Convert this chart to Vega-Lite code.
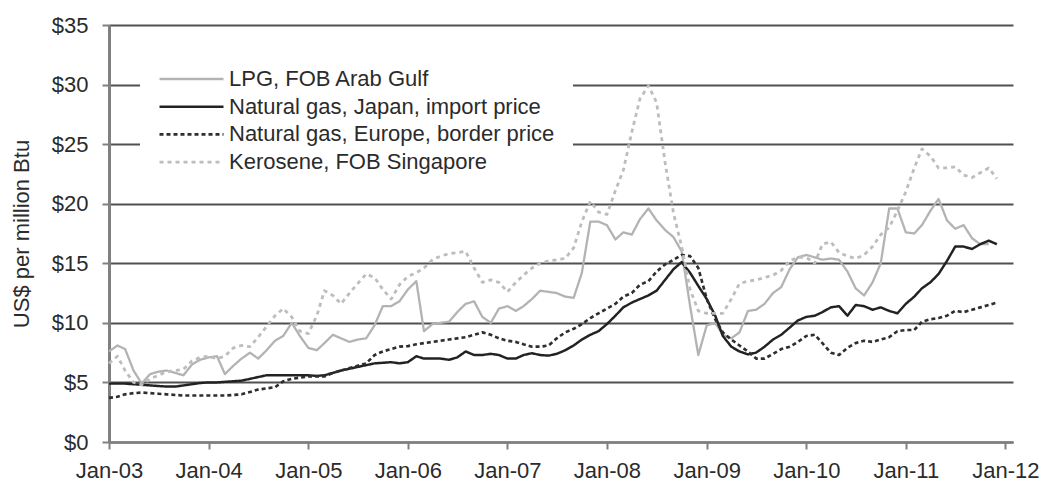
{
  "$schema": "https://vega.github.io/schema/vega-lite/v6.json",
  "width": 904,
  "height": 417,
  "autosize": {"type": "none"},
  "padding": {"left": 109, "top": 25, "right": 29, "bottom": 43},
  "background": "white",
  "config": {"view": {"stroke": null}, "font": "Liberation Sans"},
  "data": {"values": [
    {"date":"2003-01-01","lpg":7.6,"japan":4.9,"europe":3.7,"kerosene":6.6},
    {"date":"2003-02-01","lpg":8.1,"japan":4.9,"europe":3.8,"kerosene":7.2},
    {"date":"2003-03-01","lpg":7.8,"japan":4.9,"europe":4.0,"kerosene":6.0},
    {"date":"2003-04-01","lpg":6.0,"japan":4.85,"europe":4.1,"kerosene":5.0},
    {"date":"2003-05-01","lpg":4.9,"japan":4.8,"europe":4.15,"kerosene":4.8},
    {"date":"2003-06-01","lpg":5.7,"japan":4.75,"europe":4.1,"kerosene":5.3},
    {"date":"2003-07-01","lpg":5.9,"japan":4.7,"europe":4.05,"kerosene":5.6},
    {"date":"2003-08-01","lpg":6.0,"japan":4.65,"europe":4.0,"kerosene":5.9},
    {"date":"2003-09-01","lpg":5.8,"japan":4.65,"europe":3.95,"kerosene":6.0},
    {"date":"2003-10-01","lpg":5.6,"japan":4.75,"europe":3.9,"kerosene":6.1},
    {"date":"2003-11-01","lpg":6.5,"japan":4.85,"europe":3.9,"kerosene":6.8},
    {"date":"2003-12-01","lpg":6.9,"japan":4.95,"europe":3.9,"kerosene":7.1},
    {"date":"2004-01-01","lpg":7.1,"japan":5.0,"europe":3.9,"kerosene":7.2},
    {"date":"2004-02-01","lpg":7.2,"japan":5.0,"europe":3.9,"kerosene":7.0},
    {"date":"2004-03-01","lpg":5.7,"japan":5.05,"europe":3.9,"kerosene":7.2},
    {"date":"2004-04-01","lpg":6.4,"japan":5.1,"europe":3.95,"kerosene":7.9},
    {"date":"2004-05-01","lpg":7.0,"japan":5.15,"europe":4.0,"kerosene":8.1},
    {"date":"2004-06-01","lpg":7.5,"japan":5.3,"europe":4.2,"kerosene":8.0},
    {"date":"2004-07-01","lpg":7.0,"japan":5.45,"europe":4.4,"kerosene":8.8},
    {"date":"2004-08-01","lpg":7.7,"japan":5.6,"europe":4.5,"kerosene":9.7},
    {"date":"2004-09-01","lpg":8.5,"japan":5.6,"europe":4.6,"kerosene":10.6},
    {"date":"2004-10-01","lpg":8.9,"japan":5.6,"europe":5.1,"kerosene":11.2},
    {"date":"2004-11-01","lpg":10.0,"japan":5.6,"europe":5.3,"kerosene":10.5},
    {"date":"2004-12-01","lpg":8.9,"japan":5.6,"europe":5.4,"kerosene":9.3},
    {"date":"2005-01-01","lpg":7.9,"japan":5.6,"europe":5.5,"kerosene":9.1},
    {"date":"2005-02-01","lpg":7.7,"japan":5.55,"europe":5.5,"kerosene":10.6},
    {"date":"2005-03-01","lpg":8.3,"japan":5.6,"europe":5.5,"kerosene":12.7},
    {"date":"2005-04-01","lpg":9.0,"japan":5.8,"europe":5.8,"kerosene":12.3},
    {"date":"2005-05-01","lpg":8.7,"japan":6.0,"europe":6.0,"kerosene":11.6},
    {"date":"2005-06-01","lpg":8.4,"japan":6.15,"europe":6.2,"kerosene":12.5},
    {"date":"2005-07-01","lpg":8.6,"japan":6.3,"europe":6.4,"kerosene":13.3},
    {"date":"2005-08-01","lpg":8.7,"japan":6.45,"europe":6.6,"kerosene":14.1},
    {"date":"2005-09-01","lpg":9.8,"japan":6.6,"europe":7.3,"kerosene":13.8},
    {"date":"2005-10-01","lpg":11.4,"japan":6.65,"europe":7.6,"kerosene":12.8},
    {"date":"2005-11-01","lpg":11.4,"japan":6.7,"europe":7.8,"kerosene":12.0},
    {"date":"2005-12-01","lpg":11.8,"japan":6.6,"europe":8.0,"kerosene":13.2},
    {"date":"2006-01-01","lpg":12.8,"japan":6.7,"europe":8.05,"kerosene":13.9},
    {"date":"2006-02-01","lpg":13.5,"japan":7.2,"europe":8.2,"kerosene":14.2},
    {"date":"2006-03-01","lpg":9.3,"japan":7.0,"europe":8.3,"kerosene":14.6},
    {"date":"2006-04-01","lpg":9.9,"japan":7.0,"europe":8.4,"kerosene":15.3},
    {"date":"2006-05-01","lpg":10.0,"japan":7.0,"europe":8.5,"kerosene":15.6},
    {"date":"2006-06-01","lpg":10.1,"japan":6.9,"europe":8.6,"kerosene":15.8},
    {"date":"2006-07-01","lpg":10.9,"japan":7.1,"europe":8.7,"kerosene":15.9},
    {"date":"2006-08-01","lpg":11.6,"japan":7.6,"europe":8.8,"kerosene":16.0},
    {"date":"2006-09-01","lpg":11.8,"japan":7.3,"europe":9.0,"kerosene":14.6},
    {"date":"2006-10-01","lpg":10.5,"japan":7.3,"europe":9.2,"kerosene":13.4},
    {"date":"2006-11-01","lpg":10.0,"japan":7.4,"europe":9.0,"kerosene":13.6},
    {"date":"2006-12-01","lpg":11.2,"japan":7.3,"europe":8.7,"kerosene":13.4},
    {"date":"2007-01-01","lpg":11.4,"japan":7.0,"europe":8.5,"kerosene":12.6},
    {"date":"2007-02-01","lpg":11.0,"japan":7.0,"europe":8.4,"kerosene":13.4},
    {"date":"2007-03-01","lpg":11.4,"japan":7.3,"europe":8.2,"kerosene":14.0},
    {"date":"2007-04-01","lpg":12.0,"japan":7.45,"europe":8.0,"kerosene":14.6},
    {"date":"2007-05-01","lpg":12.7,"japan":7.3,"europe":8.0,"kerosene":15.0},
    {"date":"2007-06-01","lpg":12.6,"japan":7.25,"europe":8.1,"kerosene":15.2},
    {"date":"2007-07-01","lpg":12.5,"japan":7.4,"europe":8.7,"kerosene":15.3},
    {"date":"2007-08-01","lpg":12.2,"japan":7.7,"europe":9.2,"kerosene":15.4},
    {"date":"2007-09-01","lpg":12.1,"japan":8.1,"europe":9.5,"kerosene":16.3},
    {"date":"2007-10-01","lpg":14.2,"japan":8.6,"europe":9.9,"kerosene":18.5},
    {"date":"2007-11-01","lpg":18.5,"japan":9.0,"europe":10.4,"kerosene":20.2},
    {"date":"2007-12-01","lpg":18.5,"japan":9.3,"europe":10.8,"kerosene":19.3},
    {"date":"2008-01-01","lpg":18.2,"japan":9.9,"europe":11.2,"kerosene":19.1},
    {"date":"2008-02-01","lpg":17.0,"japan":10.6,"europe":11.6,"kerosene":21.1},
    {"date":"2008-03-01","lpg":17.6,"japan":11.3,"europe":12.2,"kerosene":22.8},
    {"date":"2008-04-01","lpg":17.4,"japan":11.7,"europe":12.5,"kerosene":26.0},
    {"date":"2008-05-01","lpg":18.7,"japan":12.0,"europe":13.2,"kerosene":28.8},
    {"date":"2008-06-01","lpg":19.6,"japan":12.3,"europe":13.5,"kerosene":29.9},
    {"date":"2008-07-01","lpg":18.6,"japan":12.7,"europe":14.3,"kerosene":28.5},
    {"date":"2008-08-01","lpg":17.8,"japan":13.6,"europe":14.9,"kerosene":23.5},
    {"date":"2008-09-01","lpg":17.2,"japan":14.5,"europe":15.3,"kerosene":19.2},
    {"date":"2008-10-01","lpg":16.0,"japan":15.1,"europe":15.7,"kerosene":16.4},
    {"date":"2008-11-01","lpg":11.4,"japan":14.2,"europe":15.6,"kerosene":12.8},
    {"date":"2008-12-01","lpg":7.3,"japan":13.1,"europe":14.6,"kerosene":11.0},
    {"date":"2009-01-01","lpg":9.8,"japan":12.0,"europe":12.0,"kerosene":10.8},
    {"date":"2009-02-01","lpg":10.0,"japan":10.6,"europe":10.3,"kerosene":10.8},
    {"date":"2009-03-01","lpg":9.0,"japan":8.9,"europe":9.2,"kerosene":10.8},
    {"date":"2009-04-01","lpg":8.7,"japan":8.0,"europe":8.6,"kerosene":12.0},
    {"date":"2009-05-01","lpg":9.2,"japan":7.6,"europe":8.1,"kerosene":13.3},
    {"date":"2009-06-01","lpg":11.0,"japan":7.35,"europe":7.6,"kerosene":13.5},
    {"date":"2009-07-01","lpg":11.1,"japan":7.5,"europe":7.0,"kerosene":13.6},
    {"date":"2009-08-01","lpg":11.6,"japan":8.0,"europe":7.0,"kerosene":13.8},
    {"date":"2009-09-01","lpg":12.5,"japan":8.6,"europe":7.4,"kerosene":14.0},
    {"date":"2009-10-01","lpg":13.0,"japan":9.0,"europe":7.8,"kerosene":14.4},
    {"date":"2009-11-01","lpg":14.5,"japan":9.6,"europe":8.0,"kerosene":15.2},
    {"date":"2009-12-01","lpg":15.5,"japan":10.2,"europe":8.4,"kerosene":15.5},
    {"date":"2010-01-01","lpg":15.7,"japan":10.5,"europe":8.9,"kerosene":15.5},
    {"date":"2010-02-01","lpg":15.5,"japan":10.6,"europe":9.0,"kerosene":15.0},
    {"date":"2010-03-01","lpg":15.3,"japan":10.9,"europe":8.3,"kerosene":16.6},
    {"date":"2010-04-01","lpg":15.4,"japan":11.3,"europe":7.5,"kerosene":16.8},
    {"date":"2010-05-01","lpg":15.3,"japan":11.4,"europe":7.3,"kerosene":15.9},
    {"date":"2010-06-01","lpg":14.3,"japan":10.6,"europe":7.9,"kerosene":15.6},
    {"date":"2010-07-01","lpg":12.9,"japan":11.5,"europe":8.3,"kerosene":15.4},
    {"date":"2010-08-01","lpg":12.3,"japan":11.4,"europe":8.5,"kerosene":15.7},
    {"date":"2010-09-01","lpg":13.4,"japan":11.1,"europe":8.4,"kerosene":16.4},
    {"date":"2010-10-01","lpg":15.0,"japan":11.3,"europe":8.6,"kerosene":17.4},
    {"date":"2010-11-01","lpg":19.6,"japan":11.0,"europe":8.8,"kerosene":18.0},
    {"date":"2010-12-01","lpg":19.6,"japan":10.8,"europe":9.3,"kerosene":19.4},
    {"date":"2011-01-01","lpg":17.6,"japan":11.6,"europe":9.4,"kerosene":21.0},
    {"date":"2011-02-01","lpg":17.5,"japan":12.2,"europe":9.4,"kerosene":23.0},
    {"date":"2011-03-01","lpg":18.2,"japan":12.9,"europe":10.1,"kerosene":24.6},
    {"date":"2011-04-01","lpg":19.4,"japan":13.4,"europe":10.3,"kerosene":24.0},
    {"date":"2011-05-01","lpg":20.4,"japan":14.1,"europe":10.4,"kerosene":23.0},
    {"date":"2011-06-01","lpg":18.6,"japan":15.2,"europe":10.6,"kerosene":23.0},
    {"date":"2011-07-01","lpg":17.9,"japan":16.4,"europe":11.0,"kerosene":23.1},
    {"date":"2011-08-01","lpg":18.2,"japan":16.4,"europe":10.9,"kerosene":22.4},
    {"date":"2011-09-01","lpg":17.1,"japan":16.2,"europe":11.1,"kerosene":22.2},
    {"date":"2011-10-01","lpg":16.6,"japan":16.6,"europe":11.3,"kerosene":22.6},
    {"date":"2011-11-01","lpg":16.6,"japan":16.9,"europe":11.5,"kerosene":23.0},
    {"date":"2011-12-01","japan":16.6,"europe":11.7,"kerosene":22.1}
  ]},
  "transform": [{"fold": ["lpg", "japan", "europe", "kerosene"], "as": ["series", "value"]}],
  "mark": {"type": "line", "strokeJoin": "round"},
  "encoding": {
    "x": {
      "field": "date", "type": "temporal",
      "scale": {"type": "utc", "domain": [{"year": 2003, "month": 1, "date": 1, "utc": true}, {"year": 2012, "month": 1, "date": 29, "utc": true}]},
      "axis": {
        "title": null, "grid": false, "format": "%b-%y",
        "values": [
          {"year": 2003, "month": 1, "date": 1, "utc": true},
          {"year": 2004, "month": 1, "date": 1, "utc": true},
          {"year": 2005, "month": 1, "date": 1, "utc": true},
          {"year": 2006, "month": 1, "date": 1, "utc": true},
          {"year": 2007, "month": 1, "date": 1, "utc": true},
          {"year": 2008, "month": 1, "date": 1, "utc": true},
          {"year": 2009, "month": 1, "date": 1, "utc": true},
          {"year": 2010, "month": 1, "date": 1, "utc": true},
          {"year": 2011, "month": 1, "date": 1, "utc": true},
          {"year": 2012, "month": 1, "date": 1, "utc": true}
        ],
        "labelFontSize": 22, "labelColor": "#2b2b2b", "labelPadding": 11,
        "labelFlush": false, "labelOverlap": false,
        "tickSize": 7, "tickColor": "#808080", "tickWidth": 2,
        "domainColor": "#808080", "domainWidth": 2.5
      }
    },
    "y": {
      "field": "value", "type": "quantitative",
      "scale": {"domain": [0, 35], "nice": false, "zero": true},
      "axis": {
        "title": "US$ per million Btu", "titleFontSize": 22, "titleFontWeight": "normal",
        "titleColor": "#2b2b2b", "titlePadding": 18,
        "values": [0, 5, 10, 15, 20, 25, 30, 35], "format": "$.0f",
        "labelFontSize": 22, "labelColor": "#2b2b2b", "labelPadding": 14,
        "tickSize": 7, "tickColor": "#808080", "tickWidth": 2,
        "domainColor": "#808080", "domainWidth": 3,
        "grid": true, "gridColor": "#505050", "gridWidth": 2.2
      }
    },
    "color": {
      "field": "series", "type": "nominal",
      "scale": {"domain": ["lpg", "japan", "europe", "kerosene"], "range": ["#b3b3b3", "#222222", "#2e2e2e", "#bdbdbd"]},
      "legend": {
        "title": null, "orient": "none", "legendX": 31, "legendY": 25,
        "padding": 18, "fillColor": "white", "strokeColor": null,
        "symbolType": "stroke", "symbolSize": 4096, "symbolStrokeWidth": 2.5,
        "clipHeight": 22, "rowPadding": 5.7, "labelOffset": 4,
        "labelFontSize": 22, "labelColor": "#2b2b2b", "labelLimit": 600,
        "labelExpr": "datum.label == 'lpg' ? 'LPG, FOB Arab Gulf' : datum.label == 'japan' ? 'Natural gas, Japan, import price' : datum.label == 'europe' ? 'Natural gas, Europe, border price' : 'Kerosene, FOB Singapore'"
      }
    },
    "strokeDash": {
      "field": "series", "type": "nominal",
      "scale": {"domain": ["lpg", "japan", "europe", "kerosene"], "range": [[1, 0], [1, 0], [4, 3], [4, 4]]}
    },
    "strokeWidth": {
      "field": "series", "type": "nominal",
      "scale": {"domain": ["lpg", "japan", "europe", "kerosene"], "range": [2.3, 2.8, 2.8, 2.2]}
    }
  }
}
